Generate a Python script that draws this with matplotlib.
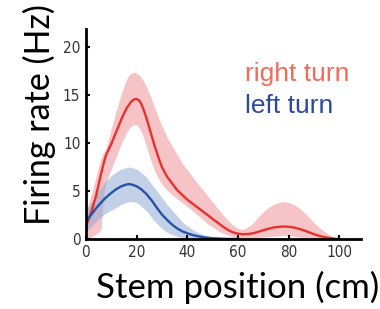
import numpy as np
import matplotlib
matplotlib.use("Agg")
import matplotlib.pyplot as plt

# right turn (red) - stem position (cm) and firing rate (Hz)
red_x = [0, 2, 4, 6, 7, 8, 10, 12, 14, 16, 17, 18, 19, 20, 21, 22, 23, 24, 25, 26,
         27, 28, 29, 30, 31, 32, 34, 36, 38, 40, 42, 44, 46, 48, 50, 52, 54, 56, 58, 60,
         62, 64, 66, 68, 70, 72, 74, 76, 78, 80, 82, 84, 86, 88, 90, 92, 94, 96, 98, 100]
red_mean = [1.3, 2.7, 4.5, 6.8, 7.9, 8.8, 9.9, 11.2, 12.5, 13.6, 14.0, 14.35, 14.55, 14.6, 14.45, 14.0, 13.3, 12.5, 11.6, 10.7,
            9.8, 9.0, 8.2, 7.5, 7.0, 6.5, 5.8, 5.1, 4.6, 4.1, 3.7, 3.3, 2.9, 2.5, 2.1, 1.7, 1.3, 0.95, 0.7, 0.55,
            0.5, 0.52, 0.6, 0.75, 0.92, 1.07, 1.2, 1.27, 1.3, 1.28, 1.2, 1.07, 0.9, 0.7, 0.5, 0.33, 0.2, 0.1, 0.04, 0.0]
red_hi = [2.8, 4.5, 6.5, 8.5, 9.0, 9.5, 11.5, 13.4, 15.2, 16.6, 17.1, 17.3, 17.4, 17.3, 17.1, 16.8, 16.3, 15.8, 15.2, 14.5,
          13.8, 13.1, 12.4, 11.8, 11.2, 10.6, 9.7, 8.8, 7.9, 7.2, 6.5, 5.8, 5.2, 4.5, 3.85, 3.2, 2.55, 1.95, 1.45, 1.1,
          1.0, 1.25, 1.7, 2.3, 2.85, 3.3, 3.6, 3.8, 3.9, 3.8, 3.6, 3.25, 2.8, 2.25, 1.7, 1.2, 0.8, 0.45, 0.15, 0.0]
red_lo = [0.1, 0.2, 0.5, 1.0, 4.5, 6.0, 7.3, 8.6, 10.0, 11.1, 11.5, 11.8, 11.9, 11.9, 11.6, 11.1, 10.4, 9.6, 8.7, 7.9,
          7.2, 6.6, 6.1, 5.7, 5.4, 5.1, 4.6, 4.2, 3.8, 3.4, 2.95, 2.5, 2.05, 1.6, 1.25, 0.9, 0.6, 0.4, 0.25, 0.15,
          0.1, 0.1, 0.1, 0.15, 0.2, 0.25, 0.3, 0.33, 0.35, 0.33, 0.3, 0.22, 0.15, 0.1, 0.05, 0.02, 0.0, 0.0, 0.0, 0.0]

# left turn (blue)
blue_x = [0, 2, 4, 6, 8, 10, 12, 14, 16, 17, 18, 20, 22, 24, 26, 28, 30, 32, 34, 36,
          38, 40, 42, 44, 46, 48, 50, 53, 56, 60]
blue_mean = [1.8, 2.5, 3.2, 3.8, 4.35, 4.8, 5.2, 5.5, 5.68, 5.72, 5.68, 5.5, 5.15, 4.65, 4.0, 3.25, 2.55, 2.0, 1.5, 1.1,
             0.8, 0.6, 0.42, 0.3, 0.2, 0.12, 0.08, 0.04, 0.01, 0.0]
blue_hi = [3.0, 3.8, 4.6, 5.4, 6.1, 6.6, 7.0, 7.3, 7.45, 7.5, 7.45, 7.3, 6.9, 6.4, 5.7, 5.0, 4.3, 3.6, 3.0, 2.4,
           1.8, 1.35, 1.0, 0.7, 0.5, 0.35, 0.25, 0.15, 0.07, 0.0]
blue_lo = [0.8, 1.3, 1.8, 2.3, 2.7, 3.0, 3.3, 3.6, 3.8, 3.9, 3.9, 3.8, 3.4, 2.9, 2.2, 1.6, 1.1, 0.7, 0.45, 0.25,
           0.12, 0.05, 0.02, 0.0, 0.0, 0.0, 0.0, 0.0, 0.0, 0.0]

xticks = [0, 20, 40, 60, 80, 100]
yticks = [0, 5, 10, 15, 20]

fig = plt.figure(figsize=(3.8, 3.09), dpi=100)
ax = fig.add_axes([0.226, 0.2265, 0.724, 0.68])

ax.fill_between(red_x, red_lo, red_hi, color="#ef8a90", alpha=0.5, linewidth=0)
ax.fill_between(blue_x, blue_lo, blue_hi, color="#86a5d3", alpha=0.5, linewidth=0)
ax.plot(red_x, red_mean, color="#e8312f", linewidth=1.7)
ax.plot(blue_x, blue_mean, color="#2652a6", linewidth=1.7)

ax.set_xlim(0, 108.5)
ax.set_ylim(0, 21.9)
ax.set_xticks(xticks)
ax.set_yticks(yticks)
ax.tick_params(direction="in", length=3, width=1.5, colors="black", pad=4)
for lab in ax.get_xticklabels() + ax.get_yticklabels():
    lab.set_family("DejaVu Sans")
    lab.set_stretch("condensed")
    lab.set_fontsize(11)
    lab.set_color("#333333")

for s in ["top", "right"]:
    ax.spines[s].set_visible(False)
for s in ["left", "bottom"]:
    ax.spines[s].set_linewidth(2)

fig.text(0.625, 1 - 298 / 309, "Stem position (cm)", fontsize=25, family="Lato",
         ha="center", va="baseline")
fig.text(0.103, 0.63, "Firing rate (Hz)", fontsize=24.5, family="Lato",
         rotation=90, ha="center", va="center")

fig.text(245 / 380, 1 - 81 / 309, "right turn", fontsize=19, color="#f26b5b",
         family="Liberation Sans", va="baseline")
fig.text(245 / 380, 1 - 113 / 309, "left turn", fontsize=19, color="#2a4a9c",
         family="Liberation Sans", va="baseline")

fig.savefig("out.png", dpi=100)
